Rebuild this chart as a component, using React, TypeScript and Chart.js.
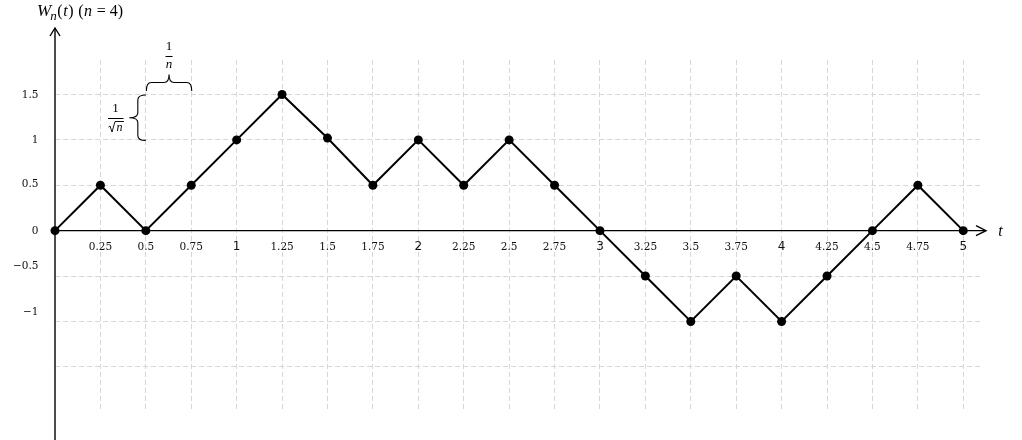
import React, { useEffect, useRef } from "react";
import { Chart, registerables } from "chart.js";

Chart.register(...registerables);

const tValues = [0, 0.25, 0.5, 0.75, 1, 1.25, 1.5, 1.75, 2, 2.25, 2.5, 2.75, 3, 3.25, 3.5, 3.75, 4, 4.25, 4.5, 4.75, 5];
const wValues = [0, 0.5, 0, 0.5, 1, 1.5, 1.02, 0.5, 1, 0.5, 1, 0.5, 0, -0.5, -1, -0.5, -1, -0.5, 0, 0.5, 0];

const xTickValues = [0.25, 0.5, 0.75, 1, 1.25, 1.5, 1.75, 2, 2.25, 2.5, 2.75, 3, 3.25, 3.5, 3.75, 4, 4.25, 4.5, 4.75, 5];
const xTickLabels = ["0.25", "0.5", "0.75", "1", "1.25", "1.5", "1.75", "2", "2.25", "2.5", "2.75", "3", "3.25", "3.5", "3.75", "4", "4.25", "4.5", "4.75", "5"];
const yGridValues = [-1.5, -1, -0.5, 0.5, 1, 1.5];
const yTickValues = [1.5, 1, 0.5, 0, -0.5, -1];
const yTickLabels = ["1.5", "1", "0.5", "0", "\u22120.5", "\u22121"];

const X_MIN = 0;
const X_MAX = 5.107;
const Y_MIN = -1.97;
const Y_MAX = 1.88;

function hBrace(ctx: CanvasRenderingContext2D, x1: number, x2: number, yTip: number, yFlat: number, yPeak: number) {
  const xm = (x1 + x2) / 2;
  const r = 5;
  ctx.beginPath();
  ctx.moveTo(x1, yTip);
  ctx.quadraticCurveTo(x1, yFlat, x1 + r, yFlat);
  ctx.lineTo(xm - r, yFlat);
  ctx.quadraticCurveTo(xm, yFlat, xm, yPeak);
  ctx.quadraticCurveTo(xm, yFlat, xm + r, yFlat);
  ctx.lineTo(x2 - r, yFlat);
  ctx.quadraticCurveTo(x2, yFlat, x2, yTip);
  ctx.stroke();
}

function vBrace(ctx: CanvasRenderingContext2D, y1: number, y2: number, xTip: number, xFlat: number, xPeak: number) {
  const ym = (y1 + y2) / 2;
  const r = 5;
  ctx.beginPath();
  ctx.moveTo(xTip, y1);
  ctx.quadraticCurveTo(xFlat, y1, xFlat, y1 + r);
  ctx.lineTo(xFlat, ym - r);
  ctx.quadraticCurveTo(xFlat, ym, xPeak, ym);
  ctx.quadraticCurveTo(xFlat, ym, xFlat, ym + r);
  ctx.lineTo(xFlat, y2 - r);
  ctx.quadraticCurveTo(xFlat, y2, xTip, y2);
  ctx.stroke();
}

const decorPlugin = {
  id: "decor",
  beforeDatasetsDraw(chart: any) {
    const ctx: CanvasRenderingContext2D = chart.ctx;
    const xs = chart.scales.x;
    const ys = chart.scales.y;
    const x0 = xs.getPixelForValue(0);
    const y0 = ys.getPixelForValue(0);
    ctx.save();
    ctx.strokeStyle = "#000";
    ctx.lineWidth = 1.4;
    // x axis
    ctx.beginPath();
    ctx.moveTo(x0, y0);
    ctx.lineTo(985, y0);
    ctx.stroke();
    ctx.beginPath();
    ctx.moveTo(976, y0 - 5);
    ctx.lineTo(986, y0);
    ctx.lineTo(976, y0 + 5);
    ctx.stroke();
    // y axis
    ctx.beginPath();
    ctx.moveTo(x0, 440);
    ctx.lineTo(x0, 28);
    ctx.stroke();
    ctx.beginPath();
    ctx.moveTo(x0 - 5, 36);
    ctx.lineTo(x0, 28);
    ctx.lineTo(x0 + 5, 36);
    ctx.stroke();
    ctx.restore();
  },
  afterDraw(chart: any) {
    const ctx: CanvasRenderingContext2D = chart.ctx;
    const xs = chart.scales.x;
    const ys = chart.scales.y;
    ctx.save();
    ctx.fillStyle = "#111";
    // x tick labels
    ctx.textAlign = "center";
    ctx.textBaseline = "middle";
    xTickValues.forEach((v, i) => {
      const lab = xTickLabels[i];
      const isInt = lab.indexOf(".") < 0;
      ctx.font = isInt ? "12px 'DejaVu Sans'" : "10.5px 'DejaVu Serif'";
      ctx.fillText(lab, xs.getPixelForValue(v), 247);
    });
    // y tick labels
    ctx.textAlign = "right";
    ctx.font = "10.5px 'DejaVu Serif'";
    yTickValues.forEach((v, i) => {
      const off = v < 0 ? -9.5 : v === 0.5 ? -1.5 : 0.5;
      ctx.fillText(yTickLabels[i], 38.5, ys.getPixelForValue(v) + off);
    });

    // title W_n(t) (n = 4)
    ctx.fillStyle = "#000";
    ctx.textAlign = "left";
    ctx.textBaseline = "alphabetic";
    const base = 16;
    let cx = 37;
    const parts: [string, string, number][] = [
      ["W", "italic 17px 'Liberation Serif'", 0],
      ["n", "italic 13px 'Liberation Serif'", 4],
      ["(", "16px 'Liberation Serif'", 0],
      ["t", "italic 16px 'Liberation Serif'", 0],
      [")", "16px 'Liberation Serif'", 0],
      [" (", "16px 'Liberation Serif'", 0],
      ["n", "italic 16px 'Liberation Serif'", 0],
      [" = 4)", "16px 'Liberation Serif'", 0],
    ];
    parts.forEach(([s, f, dy]) => {
      ctx.font = f;
      ctx.fillText(s, cx, base + dy);
      cx += ctx.measureText(s).width + (s === "W" ? -1 : 0.6);
    });

    // t label
    ctx.font = "italic 16px 'Liberation Serif'";
    ctx.textAlign = "center";
    ctx.textBaseline = "middle";
    ctx.fillText("t", 1000.5, ys.getPixelForValue(0) + 1);

    // braces
    ctx.strokeStyle = "#000";
    ctx.lineWidth = 1.1;
    const bx1 = xs.getPixelForValue(0.5) + 0.5;
    const bx2 = xs.getPixelForValue(0.75) + 0.5;
    const by15 = ys.getPixelForValue(1.5);
    const by1 = ys.getPixelForValue(1);
    hBrace(ctx, bx1, bx2, by15 - 3.5, by15 - 12, by15 - 20);
    vBrace(ctx, by15 + 0.5, by1 + 0.5, bx1 - 0.5, bx1 - 8.5, bx1 - 17);

    // fraction 1/n
    const fx = (bx1 + bx2) / 2;
    ctx.textAlign = "center";
    ctx.textBaseline = "middle";
    ctx.font = "13px 'Liberation Serif'";
    ctx.fillText("1", fx, 47);
    ctx.lineWidth = 1;
    ctx.beginPath();
    ctx.moveTo(fx - 3.5, 56.5);
    ctx.lineTo(fx + 3.5, 56.5);
    ctx.stroke();
    ctx.font = "italic 13px 'Liberation Serif'";
    ctx.fillText("n", fx, 64.5);

    // fraction 1/sqrt(n)
    const gx = 115.5;
    ctx.font = "13px 'Liberation Serif'";
    ctx.fillText("1", gx, 108.5);
    ctx.beginPath();
    ctx.moveTo(108, 118.5);
    ctx.lineTo(123.5, 118.5);
    ctx.stroke();
    // sqrt sign
    ctx.lineWidth = 0.9;
    ctx.beginPath();
    ctx.moveTo(108.5, 127);
    ctx.lineTo(110, 126);
    ctx.lineTo(112, 132);
    ctx.lineTo(115, 121.5);
    ctx.lineTo(124, 121.5);
    ctx.stroke();
    ctx.font = "italic 12px 'Liberation Serif'";
    ctx.fillText("n", 119.5, 127.5);
    ctx.restore();
  },
};

export default function App() {
  const ref = useRef<HTMLCanvasElement | null>(null);
  useEffect(() => {
    document.body.style.margin = "0";
    const canvas = ref.current;
    if (!canvas) return;
    const chart = new Chart(canvas, {
      type: "line",
      data: {
        datasets: [
          {
            data: tValues.map((t, i) => ({ x: t, y: wValues[i] })),
            borderColor: "#000",
            backgroundColor: "#000",
            borderWidth: 2,
            pointRadius: 4.5,
            pointBorderWidth: 0,
            pointBackgroundColor: "#000",
            tension: 0,
            clip: false,
          },
        ],
      },
      options: {
        responsive: false,
        animation: false,
        devicePixelRatio: 1,
        layout: { padding: { left: 55, right: 1022 - 982.7, top: 60, bottom: 440 - 409.5 } },
        plugins: { legend: { display: false }, tooltip: { enabled: false }, title: { display: false } },
        scales: {
          x: {
            type: "linear",
            min: X_MIN,
            max: X_MAX,
            afterBuildTicks: (s: any) => {
              s.ticks = xTickValues.map((v) => ({ value: v }));
            },
            afterFit: (s: any) => {
              s.height = 0;
            },
            ticks: { display: false },
            grid: { color: "#d6d6d6", lineWidth: 1, drawTicks: false },
            border: { display: false, dash: [5, 3] },
          },
          y: {
            type: "linear",
            min: Y_MIN,
            max: Y_MAX,
            afterBuildTicks: (s: any) => {
              s.ticks = yGridValues.map((v) => ({ value: v }));
            },
            afterFit: (s: any) => {
              s.width = 0;
            },
            ticks: { display: false },
            grid: { color: "#d6d6d6", lineWidth: 1, drawTicks: false },
            border: { display: false, dash: [5, 3] },
          },
        },
      },
      plugins: [decorPlugin],
    } as any);
    return () => chart.destroy();
  }, []);
  return (
    <div style={{ position: "absolute", left: 0, top: 0, width: 1022, height: 440, background: "#fff" }}>
      <canvas ref={ref} width={1022} height={440} style={{ width: 1022, height: 440 }} />
    </div>
  );
}
